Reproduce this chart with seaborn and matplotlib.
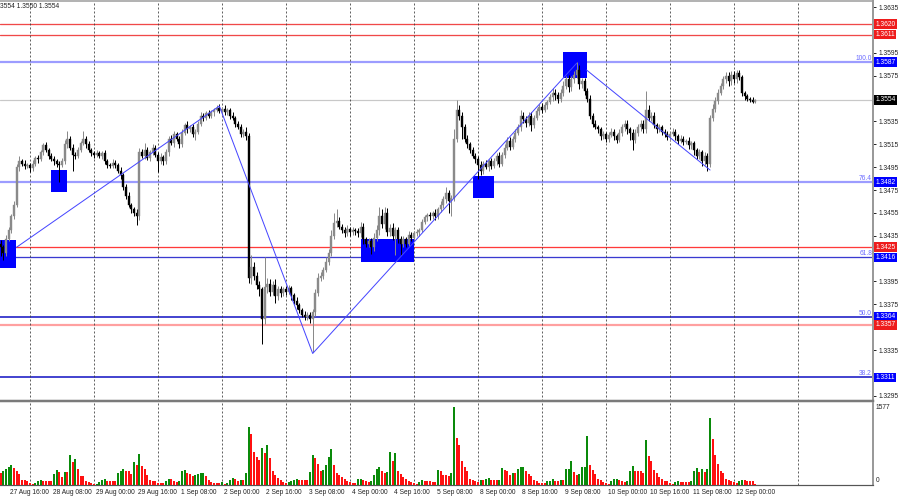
import numpy as np
import matplotlib
matplotlib.use("Agg")
import matplotlib.pyplot as plt
import matplotlib.transforms as mtransforms
from matplotlib.patches import Rectangle
import seaborn as sns

# hourly bars, hour index counted from 28 Aug 00:00 with weekends skipped
first_hour = -11
first_open = 428
# closes in pips above 1.3000
closes = [
    425, 420, 432, 440, 452, 462, 495, 500, 498, 496, 497,
    494, 498, 503, 502, 508, 514, 510, 505, 502, 500,
    498, 497, 500, 515, 520, 512, 506, 505, 510, 516,
    520, 515, 510, 507, 506, 507, 505, 507, 500, 497,
    496, 499, 497, 492, 488, 478, 470, 462, 458, 455,
    452, 508, 505, 510, 503, 508, 512, 506, 500, 504,
    500, 508, 520, 516, 524, 520, 515, 525, 532, 528,
    530, 524, 526, 533, 540, 538, 542, 540, 543, 545,
    547, 544, 546, 543, 545, 540, 538, 533, 530, 524,
    526, 522, 398, 408, 400, 392, 388, 362, 390, 393,
    386, 392, 382, 388, 385, 388, 386, 389, 383, 378,
    374, 370, 366, 364, 366, 362, 368, 385, 398, 400,
    405, 412, 420, 435, 446, 448, 443, 440, 437, 441,
    438, 440, 439, 437, 443, 432, 428, 430, 425, 433,
    440, 452, 445, 455, 438, 442, 435, 440, 432, 428,
    432, 428, 436, 433, 437, 438, 440, 447, 451, 453,
    452, 455, 452, 458, 462, 467, 472, 465, 468, 520,
    545, 540, 530, 520, 515, 510, 505, 502, 497, 492,
    498, 495, 500, 496, 500, 505, 498, 506, 512, 518,
    513, 520, 525, 530, 540, 537, 534, 540, 532, 538,
    544, 548, 545, 549, 552, 556, 560, 558, 555, 560,
    566, 572, 565, 572, 576, 580, 568, 570, 562, 555,
    540, 533, 530, 528, 522, 524, 520, 523, 526, 522,
    519, 525, 530, 533, 528, 525, 519, 525, 530, 533,
    528, 545, 538, 540, 532, 528, 530, 526, 524, 521,
    524, 526, 522, 518, 520, 517, 518, 514, 516, 510,
    505, 508, 500, 505, 498, 538, 546, 553, 560, 566,
    572, 575, 570, 576, 572, 577, 574, 560, 557, 555,
    554, 552, 554,
]
up_wick = [
    3, 2, 4, 3, 2, 3, 3, 5, 2, 3, 2,
    2, 3, 2, 3, 2, 2, 3, 2, 2, 3,
    2, 2, 3, 4, 7, 2, 3, 2, 3, 2,
    7, 2, 3, 2, 2, 3, 2, 2, 3, 2,
    2, 3, 2, 2, 3, 2, 2, 3, 2, 2,
    3, 4, 3, 6, 3, 2, 3, 2, 2, 3,
    2, 3, 2, 3, 3, 2, 2, 3, 2, 3,
    2, 3, 2, 2, 3, 2, 2, 3, 2, 2,
    2, 3, 2, 3, 2, 2, 3, 2, 2, 3,
    2, 4, 3, 10, 4, 3, 3, 2, 26, 5,
    4, 3, 5, 3, 3, 2, 3, 3, 2, 2,
    3, 2, 2, 3, 2, 2, 3, 3, 4, 3,
    3, 4, 3, 5, 9, 10, 3, 2, 3, 3,
    2, 3, 2, 3, 4, 3, 2, 3, 3, 4,
    4, 8, 6, 5, 4, 3, 4, 3, 3, 3,
    3, 2, 3, 2, 2, 3, 2, 3, 2, 2,
    3, 2, 3, 2, 3, 3, 6, 3, 3, 8,
    9, 4, 3, 3, 3, 2, 3, 2, 3, 3,
    2, 3, 2, 3, 3, 2, 3, 2, 3, 3,
    3, 2, 3, 3, 5, 3, 3, 3, 3, 3,
    3, 2, 3, 3, 2, 3, 4, 3, 3, 3,
    4, 3, 4, 3, 3, 7, 4, 3, 3, 2,
    3, 2, 3, 2, 2, 3, 2, 3, 3, 2,
    2, 3, 3, 3, 3, 2, 3, 3, 3, 3,
    3, 17, 4, 3, 3, 2, 3, 2, 2, 3,
    2, 3, 2, 2, 3, 2, 2, 3, 2, 2,
    2, 3, 2, 3, 2, 3, 4, 3, 3, 3,
    3, 3, 3, 3, 3, 3, 3, 2, 2, 2,
    1, 2, 1,
]
down_wick = [
    8, 6, 3, 2, 3, 2, 2, 3, 2, 3, 2,
    3, 2, 2, 3, 2, 2, 2, 3, 2, 3,
    3, 15, 2, 2, 3, 2, 14, 3, 2, 2,
    2, 3, 2, 2, 3, 2, 2, 3, 2, 3,
    2, 2, 3, 2, 3, 3, 3, 2, 3, 3,
    8, 3, 2, 3, 2, 3, 2, 2, 9, 2,
    3, 2, 3, 2, 3, 2, 3, 2, 2, 3,
    2, 3, 5, 2, 2, 3, 2, 2, 2, 3,
    2, 2, 3, 2, 2, 3, 2, 3, 2, 3,
    3, 3, 4, 5, 4, 4, 6, 22, 4, 5,
    4, 3, 6, 3, 4, 3, 3, 2, 4, 3,
    3, 3, 2, 3, 3, 3, 29, 3, 3, 3,
    3, 2, 3, 3, 3, 3, 2, 3, 3, 2,
    3, 2, 3, 3, 3, 4, 3, 3, 6, 3,
    3, 4, 3, 4, 3, 3, 4, 17, 3, 10,
    3, 3, 2, 3, 2, 2, 3, 2, 2, 3,
    3, 2, 3, 2, 2, 3, 3, 10, 13, 3,
    3, 4, 10, 3, 3, 3, 2, 3, 12, 4,
    3, 2, 3, 3, 2, 3, 3, 2, 3, 2,
    3, 2, 3, 2, 3, 3, 4, 3, 5, 3,
    2, 3, 3, 2, 3, 2, 3, 4, 4, 3,
    3, 3, 4, 3, 3, 3, 5, 4, 4, 3,
    3, 3, 2, 3, 3, 2, 3, 3, 2, 3,
    3, 2, 3, 3, 4, 6, 9, 3, 3, 3,
    3, 3, 3, 3, 3, 3, 2, 3, 3, 2,
    3, 2, 3, 3, 2, 3, 2, 3, 3, 4,
    3, 3, 4, 3, 6, 3, 3, 3, 3, 2,
    3, 3, 4, 3, 3, 3, 3, 3, 3, 2,
    2, 1, 1,
]
volumes = [
    237, 284, 318, 372, 413, 345, 278, 223, 102, 95, 74,
    41, 27, 47, 81, 102, 88, 81, 81, 81, 223,
    305, 264, 169, 257, 257, 603, 474, 528, 332, 183,
    183, 88, 61, 34, 20, 27, 61, 102, 115, 81,
    74, 74, 74, 237, 291, 332, 291, 284, 223, 474,
    399, 623, 386, 318, 196, 102, 88, 88, 47, 41,
    41, 81, 115, 115, 81, 61, 74, 291, 305, 250,
    223, 183, 203, 223, 244, 250, 183, 102, 54, 47,
    41, 34, 61, 20, 41, 102, 135, 115, 88, 102,
    102, 237, 1185, 1036, 670, 562, 508, 751, 657, 806,
    542, 291, 203, 135, 102, 61, 34, 61, 88, 102,
    129, 102, 102, 102, 102, 271, 603, 542, 427, 291,
    305, 399, 562, 724, 413, 250, 203, 156, 115, 88,
    61, 41, 34, 115, 129, 102, 88, 61, 88, 203,
    332, 359, 291, 237, 271, 670, 481, 643, 278, 223,
    156, 115, 74, 61, 41, 20, 54, 102, 88, 74,
    74, 68, 61, 305, 291, 210, 196, 183, 237, 1577,
    948, 812, 487, 359, 278, 115, 102, 88, 61, 102,
    102, 129, 135, 102, 95, 95, 102, 345, 305, 278,
    210, 237, 237, 318, 359, 372, 291, 223, 183, 102,
    88, 47, 34, 34, 74, 88, 129, 88, 88, 102,
    102, 318, 332, 494, 264, 196, 223, 359, 372, 995,
    399, 305, 223, 115, 102, 61, 34, 20, 88, 115,
    129, 102, 74, 61, 88, 291, 386, 291, 284, 278,
    250, 914, 589, 481, 305, 250, 169, 115, 88, 88,
    47, 20, 61, 88, 61, 61, 61, 61, 88, 278,
    345, 264, 318, 264, 318, 1354, 941, 603, 427, 278,
    237, 115, 102, 88, 61, 47, 74, 102, 102, 88,
    88, 88, 20,
]
volume_max = 1577

level_prices = [1.3620, 1.3611, 1.3587, 1.3554, 1.3482, 1.3425, 1.3416, 1.3364, 1.3357, 1.3311]
level_line_colors = ["#f04848", "#f04848", "#9c9cff", "#c8c8c8", "#9c9cff",
                     "#ff3a3a", "#3a3ad0", "#2828c8", "#ffa0a0", "#2828c8"]
level_line_px = [1.3, 1.3, 2.2, 1.2, 2.2, 1.3, 1.3, 1.7, 2.2, 1.7]
level_tag_colors = ["#ee1c1c", "#ee1c1c", "#0000ff", "#000000", "#0000ff",
                    "#ee1c1c", "#0000ff", "#0000ff", "#ee1c1c", "#0000ff"]

fib_prices = [1.3587, 1.3482, 1.3416, 1.3364, 1.3311]
fib_names = ["100.0", "76.4", "61.8", "50.0", "38.2"]

zigzag_hours = [-5, 71, 106, 205]
zigzag_prices = [1.3425, 1.35485, 1.3332, 1.3586]
trend_hours = [208.7, 255]
trend_prices = [1.3580, 1.34925]

# (start hour, end hour, low price, high price)
boxes = [(-11.25, -5.25, 1.34068, 1.34313),
         (7.9, 13.9, 1.34733, 1.34925),
         (124.1, 144.0, 1.34120, 1.34321),
         (166.1, 174.0, 1.34680, 1.34873),
         (199.9, 208.9, 1.35730, 1.35957)]

price_ticks = [1.3635, 1.3595, 1.3575, 1.3535, 1.3515, 1.3495, 1.3475, 1.3455,
               1.3435, 1.3395, 1.3375, 1.3335, 1.3295]
time_hours = [-8, 8, 24, 40, 56, 72, 88, 104, 120, 136, 152, 168, 184, 200, 216, 232, 248, 264]
time_labels = ["27 Aug 16:00", "28 Aug 08:00", "29 Aug 00:00", "29 Aug 16:00", "1 Sep 08:00",
               "2 Sep 00:00", "2 Sep 16:00", "3 Sep 08:00", "4 Sep 00:00", "4 Sep 16:00",
               "5 Sep 08:00", "8 Sep 00:00", "8 Sep 16:00", "9 Sep 08:00", "10 Sep 00:00",
               "10 Sep 16:00", "11 Sep 08:00", "12 Sep 00:00"]
day_hours = list(range(0, 289, 24))

sns.set_style("white")
plt.rcParams["font.family"] = ["Liberation Sans", "DejaVu Sans"]
PX = 0.72  # one pixel in points at 100 dpi
FS = 4.8

fig = plt.figure(figsize=(9, 5), dpi=100)
ax = fig.add_axes([0, 99 / 500, 873 / 900, 400 / 500])
axv = fig.add_axes([0, 15 / 500, 873 / 900, 82 / 500], sharex=ax)

n = len(closes)
hours = np.arange(first_hour, first_hour + n)
c = 1.3 + np.array(closes) / 10000
o = np.concatenate([[1.3 + first_open / 10000], c[:-1]])
hi = np.maximum(o, c) + np.array(up_wick) / 10000
lo = np.minimum(o, c) - np.array(down_wick) / 10000
cols = np.where(c >= o, "#8a8a8a", "#000000")

# levels and boxes
for p, lc, lw in zip(level_prices, level_line_colors, level_line_px):
    ax.axhline(p, color=lc, lw=lw * PX, zorder=1)
for h0, h1, p0, p1 in boxes:
    ax.add_patch(Rectangle((h0, p0), h1 - h0, p1 - p0, facecolor="#0000ff",
                           edgecolor="none", zorder=2))
for h in day_hours:
    for a in (ax, axv):
        a.axvline(h, color="#3a3a3a", lw=0.8 * PX, ls=(0, (2.5, 2.5)), zorder=1.5)

# candles
ax.vlines(hours, lo, hi, colors=cols, lw=1 * PX, zorder=3)
ax.bar(hours, c - o, bottom=o, width=0.7, color=cols, edgecolor=cols, lw=0.4 * PX, zorder=3)

sns.lineplot(x=zigzag_hours, y=zigzag_prices, ax=ax, color="#4646ff", lw=1 * PX,
             sort=False, estimator=None, zorder=4)
sns.lineplot(x=trend_hours, y=trend_prices, ax=ax, color="#4646ff", lw=1 * PX,
             sort=False, estimator=None, zorder=4)

ax.set_xlim(-11.25, 316.1)
ax.set_ylim(1.32904, 1.36404)
ax.yaxis.tick_right()
ax.set_yticks(price_ticks)
ax.set_yticklabels(["%.4f" % t for t in price_ticks])
ax.tick_params(axis="y", labelsize=FS, length=2.5, width=0.7, colors="#222222", pad=1.2)
ax.tick_params(axis="x", bottom=False, labelbottom=False)
ax.spines["left"].set_visible(False)
ax.spines["top"].set_color("#9a9a9a")
ax.spines["top"].set_linewidth(1.5 * PX)
ax.spines["right"].set_color("#9a9a9a")
ax.spines["right"].set_linewidth(2 * PX)
ax.spines["bottom"].set_color("#7a7a7a")
ax.spines["bottom"].set_linewidth(2.5 * PX)

trans = mtransforms.blended_transform_factory(ax.transAxes, ax.transData)
for p, tc in zip(level_prices, level_tag_colors):
    ax.text(1.0 + 2.5 / 873, p, "%.4f" % p, transform=trans, fontsize=FS, color="white",
            ha="left", va="center", clip_on=False, zorder=6,
            bbox=dict(boxstyle="square,pad=0.2", fc=tc, ec="none"))
for p, name in zip(fib_prices, fib_names):
    ax.text(1.0 - 1 / 873, p + 0.00003, name, transform=trans, fontsize=FS,
            color="#6a6aff", ha="right", va="bottom", zorder=6)

fig.text(0.0, 1 - 7 / 500, "3554 1.3550 1.3554", fontsize=FS, color="#222222",
         ha="left", va="center")

# volumes
v = np.array(volumes)
vcols = np.where(np.concatenate([[0], np.diff(v)]) > 0, "#0a8a0a", "#ff1010")
axv.bar(hours, v, width=0.8, color=vcols, lw=0, zorder=3)
axv.set_ylim(0, 1664)
axv.set_yticks([])
axv.set_xticks(time_hours)
axv.tick_params(axis="x", labelbottom=False, length=2.5, width=0.7, colors="#222222")
axv.spines["left"].set_visible(False)
axv.spines["top"].set_visible(False)
axv.spines["right"].set_color("#9a9a9a")
axv.spines["right"].set_linewidth(2 * PX)
axv.spines["bottom"].set_color("#555555")
axv.spines["bottom"].set_linewidth(1.2 * PX)

vtrans = mtransforms.blended_transform_factory(axv.transAxes, axv.transData)
axv.text(1.0 + 3 / 873, volume_max, str(volume_max), transform=vtrans, fontsize=FS,
         color="#222222", ha="left", va="center", clip_on=False)
axv.text(1.0 + 3 / 873, 85, "0", transform=vtrans, fontsize=FS,
         color="#222222", ha="left", va="center", clip_on=False)

xtrans = mtransforms.blended_transform_factory(axv.transData, axv.transAxes)
for h, lab in zip(time_hours, time_labels):
    axv.text(h + 0.6, -0.05, lab, transform=xtrans, fontsize=FS, color="#222222",
             ha="left", va="top", clip_on=False)

fig.savefig("out.png", dpi=100)
